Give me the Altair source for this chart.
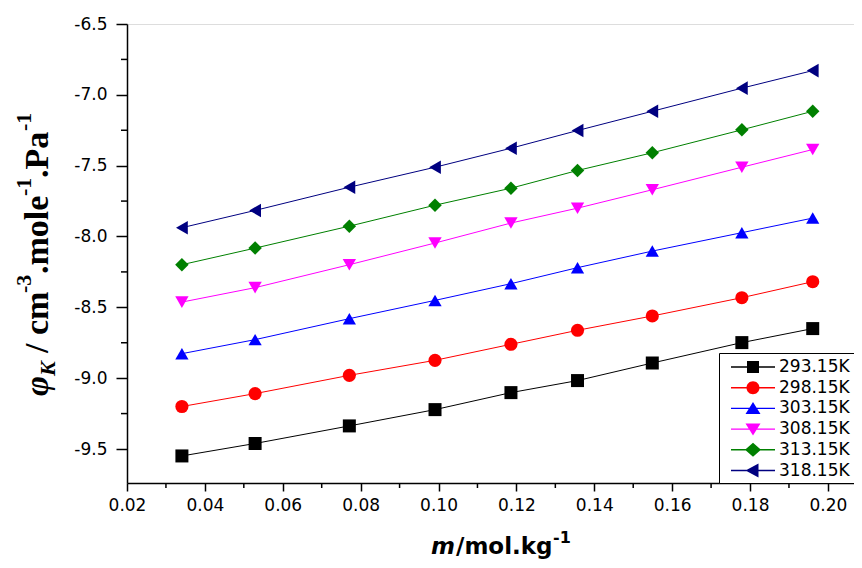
import altair as alt
import pandas as pd

# ---------------- data ----------------
m_values = [0.0341, 0.0529, 0.0771, 0.0991, 0.1186, 0.1357, 0.1549, 0.1779, 0.1961]

series_names = ["293.15K", "298.15K", "303.15K", "308.15K", "313.15K", "318.15K"]

phi_293 = [-9.549, -9.461, -9.337, -9.222, -9.102, -9.017, -8.893, -8.749, -8.650]
phi_298 = [-9.200, -9.109, -8.980, -8.874, -8.761, -8.662, -8.561, -8.432, -8.319]
phi_303 = [-8.827, -8.728, -8.580, -8.451, -8.333, -8.220, -8.103, -7.973, -7.870]
phi_308 = [-8.463, -8.361, -8.199, -8.046, -7.905, -7.800, -7.670, -7.511, -7.386]
phi_313 = [-8.199, -8.082, -7.927, -7.779, -7.659, -7.534, -7.409, -7.247, -7.116]
phi_318 = [-7.938, -7.816, -7.652, -7.511, -7.377, -7.252, -7.116, -6.953, -6.829]

series_values = [phi_293, phi_298, phi_303, phi_308, phi_313, phi_318]

colors = ["#000000", "#FF0000", "#0000FF", "#FF00FF", "#008000", "#000080"]
marker_shapes = ["square", "circle", "triangle-up", "triangle-down", "diamond", "triangle-left"]
marker_sizes = [169, 185, 250, 250, 240, 225]

# legend symbols: a short line with the marker in its middle
_line = "M-2.2,-0.07H2.2V0.07H-2.2Z "
legend_paths = [
    _line + "M-0.6,-0.6H0.6V0.6H-0.6Z",
    _line + "M-0.65,0A0.65,0.65,0,1,1,0.65,0A0.65,0.65,0,1,1,-0.65,0Z",
    _line + "M0,-0.65L0.75,0.55L-0.75,0.55Z",
    _line + "M0,0.65L-0.75,-0.55L0.75,-0.55Z",
    _line + "M0,-0.7L0.8,0L0,0.7L-0.8,0Z",
    _line + "M-0.75,0L0.55,-0.7L0.55,0.7Z",
]

x_major = [0.02, 0.04, 0.06, 0.08, 0.10, 0.12, 0.14, 0.16, 0.18, 0.20]
x_minor = [0.03, 0.05, 0.07, 0.09, 0.11, 0.13, 0.15, 0.17, 0.19]
y_major = [-9.5, -9.0, -8.5, -8.0, -7.5, -7.0, -6.5]
y_minor = [-9.25, -8.75, -8.25, -7.75, -7.25, -6.75]

x_domain = [0.02, 0.2067]
y_domain = [-9.74, -6.5]

# axis title pieces (rich text built from several text marks)
y_title_pieces = ["φ", "K", "/", "cm", "-3", ".mole", "-1", ".Pa", "-1"]
x_title_pieces = ["m", "/mol.kg", "-1"]

W, H = 727, 459

rows = []
for name, vals in zip(series_names, series_values):
    for m, v in zip(m_values, vals):
        rows.append({"series": name, "m": m, "phi": v})
df = pd.DataFrame(rows)

x_enc = alt.X(
    "m:Q",
    scale=alt.Scale(domain=x_domain, nice=False, zero=False),
    axis=alt.Axis(
        values=x_major, format=".2f", title=None, grid=False,
        tickSize=8, tickWidth=1.5, tickColor="black",
        domainColor="black", domainWidth=1.5,
        labelPadding=6, labelFont="DejaVu Sans", labelFontSize=17,
        labelColor="black", labelFlush=False, labelOverlap=False,
    ),
)
y_enc = alt.Y(
    "phi:Q",
    scale=alt.Scale(domain=y_domain, nice=False, zero=False),
    axis=alt.Axis(
        values=y_major, title=None, grid=False,
        labelExpr="replace(format(datum.value, '.1f'), '\u2212', '-')",
        tickSize=11, tickWidth=1.5, tickColor="black",
        domainColor="black", domainWidth=1.5,
        labelPadding=9, labelFont="DejaVu Sans", labelFontSize=17,
        labelColor="black", labelFlush=False, labelOverlap=False,
    ),
)

base = alt.Chart(df)

lines = base.mark_line(strokeWidth=1).encode(
    x=x_enc, y=y_enc,
    color=alt.Color("series:N", scale=alt.Scale(domain=series_names, range=colors), legend=None),
)

points = base.mark_point(filled=True, opacity=1).encode(
    x=x_enc, y=y_enc,
    color=alt.Color("series:N", scale=alt.Scale(domain=series_names, range=colors), legend=None),
    shape=alt.Shape("series:N", scale=alt.Scale(domain=series_names, range=marker_shapes), legend=None),
    size=alt.Size("series:N", scale=alt.Scale(domain=series_names, range=marker_sizes), legend=None),
)

legend_spec = dict(
    title=None, orient="bottom-right", offset=0, padding=4,
    strokeColor="black", fillColor="white", cornerRadius=0,
    symbolSize=400, symbolStrokeWidth=0, symbolOpacity=1,
    symbolOffset=20, labelOffset=16, rowPadding=2.7,
    labelFont="DejaVu Sans", labelFontSize=17, labelColor="black",
)

legend_layer = base.mark_point(filled=True, opacity=0).encode(
    x=x_enc, y=y_enc,
    color=alt.Color("series:N", scale=alt.Scale(domain=series_names, range=colors),
                    legend=alt.Legend(**legend_spec)),
    shape=alt.Shape("series:N", scale=alt.Scale(domain=series_names, range=legend_paths),
                    legend=alt.Legend(**legend_spec)),
)

# minor ticks, placed through the scales
x_minor_ticks = alt.Chart(pd.DataFrame({"m": x_minor})).mark_rule(
    color="black", strokeWidth=1.5
).encode(x=alt.X("m:Q"), y=alt.value(H), y2=alt.value(H + 5))

y_minor_ticks = alt.Chart(pd.DataFrame({"phi": y_minor})).mark_rule(
    color="black", strokeWidth=1.5
).encode(y=alt.Y("phi:Q"), x=alt.value(0), x2=alt.value(-6))


def text_piece(txt, x, y, font, size, weight="bold", style="normal", angle=0):
    return alt.Chart(pd.DataFrame({"t": [txt]})).mark_text(
        font=font, fontSize=size, fontWeight=weight, fontStyle=style,
        align="left", baseline="alphabetic", angle=angle, color="black",
    ).encode(x=alt.value(x), y=alt.value(y), text="t:N")


# y title (rotated, reading bottom to top)
yb = -79
SERIF = "Liberation Serif"
y_title = [
    text_piece(y_title_pieces[0], yb, 372, SERIF, 34, style="italic", angle=270),
    text_piece(y_title_pieces[1], yb + 7, 352, SERIF, 22, style="italic", angle=270),
    text_piece(y_title_pieces[2], yb, 329, SERIF, 34, angle=270),
    text_piece(y_title_pieces[3], yb, 311, SERIF, 34, angle=270),
    text_piece(y_title_pieces[4], yb - 17, 269, SERIF, 22, angle=270),
    text_piece(y_title_pieces[5], yb, 250, SERIF, 34, angle=270),
    text_piece(y_title_pieces[6], yb - 17, 172, SERIF, 22, angle=270),
    text_piece(y_title_pieces[7], yb, 154, SERIF, 34, angle=270),
    text_piece(y_title_pieces[8], yb - 17, 107, SERIF, 22, angle=270),
]

# x title
x_title = [
    text_piece(x_title_pieces[0], 304, 530, "DejaVu Sans", 23, style="italic"),
    text_piece(x_title_pieces[1], 329, 530, "DejaVu Sans", 23),
    text_piece(x_title_pieces[2], 426, 519, "DejaVu Sans", 16),
]

chart = alt.layer(
    legend_layer, lines, points, x_minor_ticks, y_minor_ticks, *y_title, *x_title
).resolve_scale(
    color="independent", shape="independent", size="independent"
).properties(
    width=W, height=H,
    autosize=alt.AutoSizeParams(type="none"),
    padding={"left": 119, "top": 16, "right": 0, "bottom": 77},
).configure_view(stroke=None).configure(background="white")

chart.save("out.html", embed_options={"renderer": "svg", "actions": False})
